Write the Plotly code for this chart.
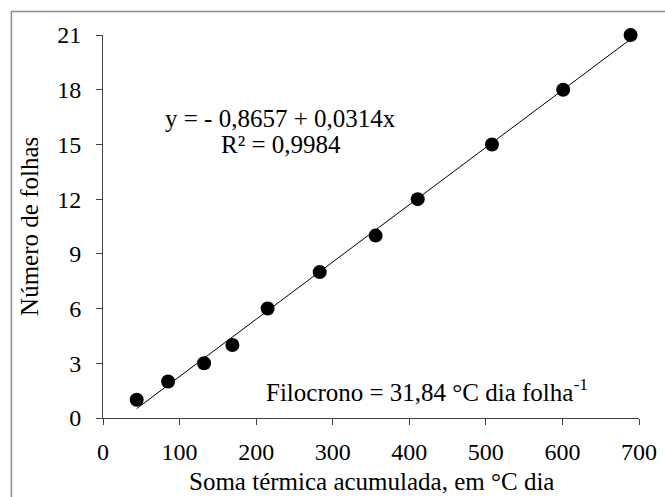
import plotly.graph_objects as go

# Data
soma_termica = [44, 85, 132, 169, 215, 283, 356, 411, 508, 601, 689]
numero_folhas = [1, 2, 3, 4, 6, 8, 10, 12, 15, 18, 21]
intercepto = -0.8657
inclinacao = 0.0314
x_ticks = [0, 100, 200, 300, 400, 500, 600, 700]
y_ticks = [0, 3, 6, 9, 12, 15, 18, 21]
x_title = "Soma térmica acumulada, em °C dia"
y_title = "Número de folhas"

FONT = "Liberation Serif, Times New Roman, serif"

# plot area in pixels
L, R, T, B = 102.7, 639.3, 34.5, 418.0
W, H = 665, 497
PW, PH = R - L, B - T

x_fit = [soma_termica[0], soma_termica[-1]]
y_fit = [intercepto + inclinacao * v for v in x_fit]

fig = go.Figure()
fig.add_trace(go.Scatter(x=x_fit, y=y_fit, mode="lines", cliponaxis=False,
                         line=dict(color="black", width=1), hoverinfo="skip",
                         showlegend=False))
fig.add_trace(go.Scatter(x=soma_termica, y=numero_folhas, mode="markers",
                         cliponaxis=False,
                         marker=dict(color="black", size=14), showlegend=False))

axis_common = dict(showgrid=False, zeroline=False, showline=True,
                   linecolor="#404040", linewidth=1, ticks="outside",
                   ticklen=6, tickcolor="#404040", tickwidth=1,
                   automargin=False,
                   tickfont=dict(family=FONT, size=24, color="black"))

fig.update_xaxes(range=[0, 700], tickvals=x_ticks, ticklabelstandoff=6,
                 **axis_common)
fig.update_yaxes(range=[0, 21], tickvals=y_ticks, ticklabelstandoff=10,
                 **axis_common)

# axis titles
fig.add_annotation(xref="paper", yref="paper", x=((L + R) / 2 - L) / PW,
                   y=(B - 482) / PH, text=x_title, showarrow=False,
                   xanchor="center", yanchor="middle",
                   font=dict(family=FONT, size=25, color="black"))
fig.add_annotation(xref="paper", yref="paper", x=(29 - L) / PW,
                   y=0.5, text=y_title, showarrow=False, textangle=-90,
                   xanchor="center", yanchor="middle",
                   font=dict(family=FONT, size=25, color="black"))

fig.add_annotation(x=232, y=16.43, xref="x", yref="y",
                   text="y = - 0,8657 + 0,0314x", showarrow=False,
                   font=dict(family=FONT, size=25, color="black"))
fig.add_annotation(x=232, y=14.98, xref="x", yref="y",
                   text="R² = 0,9984", showarrow=False,
                   font=dict(family=FONT, size=25, color="black"))
fig.add_annotation(x=423, y=1.51, xref="x", yref="y",
                   text="Filocrono = 31,84 °C dia folha<sup>-1</sup>", showarrow=False,
                   font=dict(family=FONT, size=25, color="black"))

# outer frame (top and left edges visible)
fig.add_shape(type="rect", xref="paper", yref="paper",
              x0=(11 - L) / PW, x1=1.3,
              y0=-0.4, y1=(B - 11) / PH,
              line=dict(color="#8c8c8c", width=1.5), layer="below")

fig.update_layout(width=W, height=H,
                  margin=dict(l=L, r=W - R, t=T, b=H - B, autoexpand=False),
                  paper_bgcolor="white", plot_bgcolor="white",
                  font=dict(family=FONT, color="black"))

fig.write_html("out.html", config={"displayModeBar": False},
               post_script="document.body.style.margin='0';document.body.style.overflow='hidden';")
